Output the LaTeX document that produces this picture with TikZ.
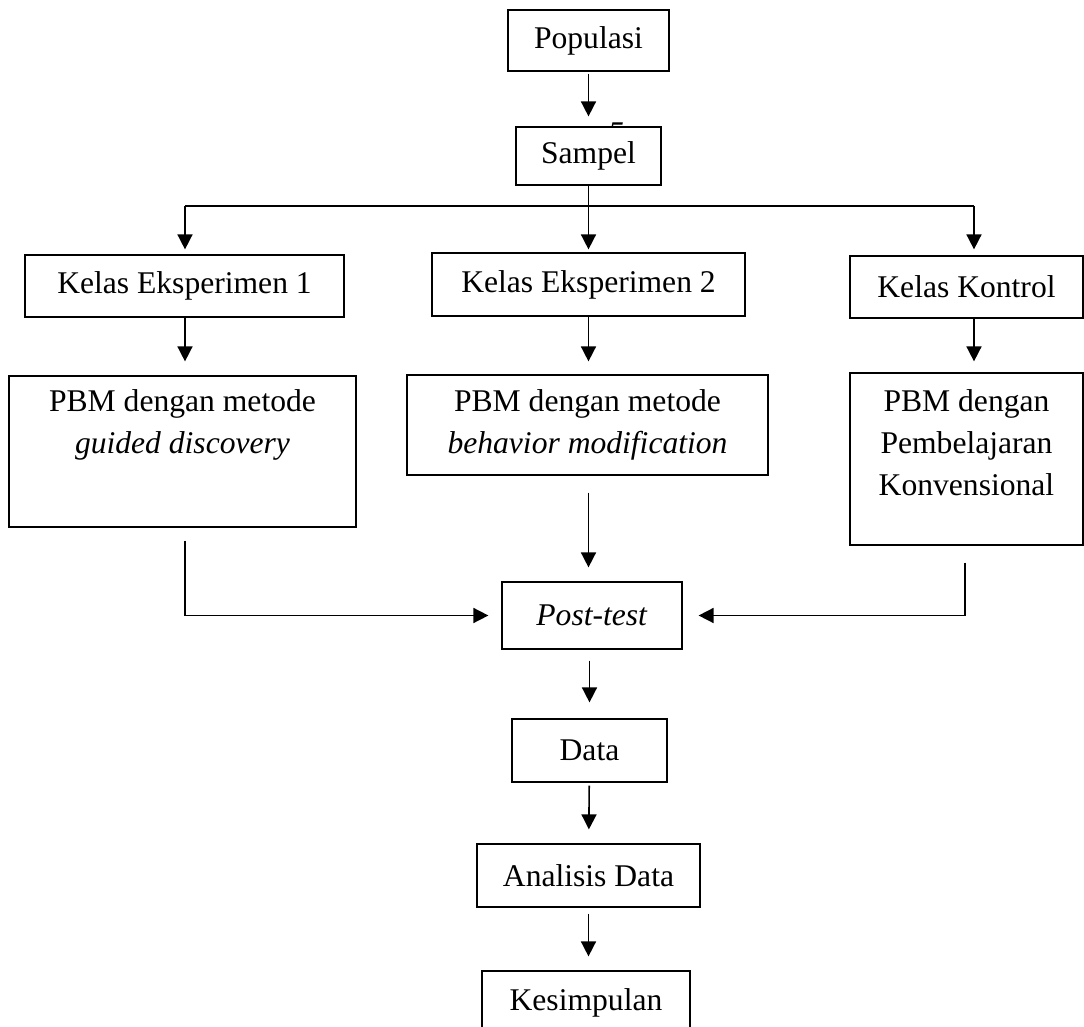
\documentclass[tikz,border=0pt]{standalone}
\usepackage{fontspec}
\setmainfont{Liberation Serif}
\usetikzlibrary{arrows.meta}
\tikzset{
  box/.style={draw, line width=0.6pt, fill=white, align=center},
  ln/.style={line width=0.8pt},
  arr/.style={line width=0.8pt, -{Triangle[length=7.5pt,width=7.5pt]}, shorten >=7pt}
}
\begin{document}
\begin{tikzpicture}[x=0.5pt,y=-0.5pt,font=\fontsize{15.8}{21}\selectfont]
\useasboundingbox (0,0) rectangle (1084,1027);
\node[inner sep=0] (five) at (616,133) {\textit{5}};
\node[box, minimum width=80.5pt, minimum height=30.5pt] (pop) at (588.5,40.5) {Populasi};
\node[box, minimum width=72.5pt, minimum height=29pt] (sam) at (588.5,156) {Sampel};
\node[box, minimum width=159.5pt, minimum height=31pt] (k1) at (184.5,286) {Kelas Eksperimen 1};
\node[box, minimum width=156.5pt, minimum height=31.5pt] (k2) at (588.5,284.5) {Kelas Eksperimen 2};
\node[box, minimum width=116.5pt, minimum height=31pt] (kk) at (966.5,287) {Kelas Kontrol};
\node[box, minimum width=173.5pt, minimum height=75.5pt] (p1) at (182.5,451.5) {};
\node[anchor=north, align=center, inner sep=0] (p1txt) at ([yshift=-7pt]p1.north)
  {PBM dengan metode\\\textit{guided discovery}};
\node[box, minimum width=180.5pt, minimum height=50pt] (p2) at (587.5,425)
  {PBM dengan metode\\\textit{behavior modification}};
\node[box, minimum width=116.5pt, minimum height=86pt] (p3) at (966.5,459) {};
\node[anchor=north, align=center, inner sep=0] (p3txt) at ([yshift=-8.5pt]p3.north)
  {PBM dengan\\Pembelajaran\\Konvensional};
\node[box, minimum width=90pt, minimum height=33.5pt] (pt) at (592,615.5) {\textit{Post-test}};
\node[box, minimum width=77.5pt, minimum height=31.5pt] (data) at (589.5,750.5) {Data};
\node[box, minimum width=111.5pt, minimum height=31.5pt] (ana) at (588.5,875.5) {Analisis Data};
\node[box, minimum width=104pt, minimum height=32pt] (kes) at (586,1003) {Kesimpulan};

\coordinate (sp) at (588.5,206);
\coordinate (sl) at (185,206);
\coordinate (sr) at (974,206);

\draw[arr, shorten <=1pt, shorten >=5pt] (pop) -- (sam);
\draw[ln] (sam) -- (sp);
\draw[ln] (sl) -- (sr);
\draw[arr, shorten >=2.5pt] (sl) -- (sl |- k1.north);
\draw[arr, shorten >=1.5pt] (sp) -- (sp |- k2.north);
\draw[arr, shorten >=3pt] (sr) -- (sr |- kk.north);
\draw[arr] (k1.south -| sl) -- (sl |- p1.north);
\draw[arr, shorten >=6.5pt] (k2.south -| sp) -- (sp |- p2.north);
\draw[arr, shorten >=5.5pt] (kk.south -| sr) -- (sr |- p3.north);
\draw[arr, shorten <=6.5pt, shorten >=6.5pt] (p1.south -| sl) |- (pt.west);
\draw[arr, shorten <=8.5pt] (p2.south -| sp) -- (sp |- pt.north);
\draw[arr, shorten <=8.5pt, shorten >=8pt] ([xshift=-0.75pt]p3.south) |- (pt.east);
\draw[arr, shorten <=5.5pt, shorten >=8pt] (pt.south -| data) -- (data);
\draw[arr, shorten <=1.5pt] (data) -- (ana);
\draw[arr, shorten <=3pt] (ana.south) -- (ana.south |- kes.north);
\end{tikzpicture}
\end{document}
